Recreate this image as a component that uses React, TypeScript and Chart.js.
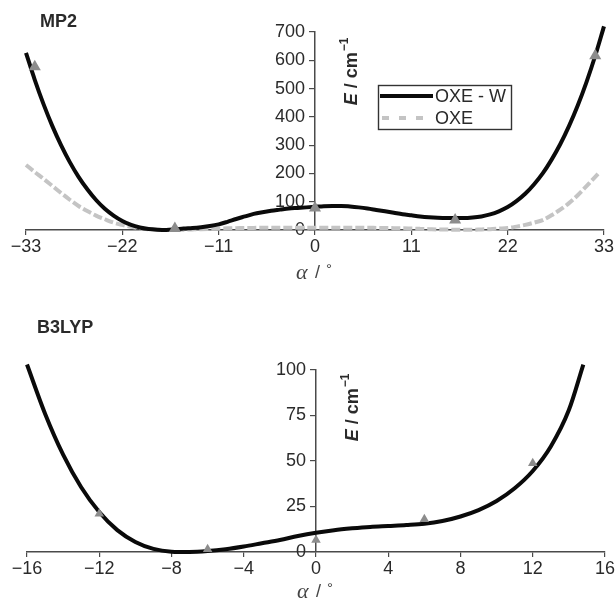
import React, { useEffect, useRef } from 'react';
import { Chart, registerables } from 'chart.js';

Chart.register(...registerables);

// ---------- MP2 panel data ----------
const mp2Angles = [-33, -32, -31, -30, -29, -28, -27, -26, -25, -24, -23, -22, -21, -20, -19, -18, -17,
  -16, -15, -14, -13, -12, -11, -10, -9, -8, -7, -6, -5, -4, -3, -2, -1,
  0, 1, 2, 3, 4, 5, 6, 7, 8, 9, 10, 11, 12, 13, 14, 15, 16,
  17, 18, 19, 20, 21, 22, 23, 24, 25, 26, 27, 28, 29, 30, 31, 32, 33];
const mp2OxeW = [626, 531, 445, 368, 300, 240, 188, 144, 106, 75, 51, 32, 18, 9, 3.5, 1, 0,
  2, 5, 7, 10, 14, 20, 29, 39, 48, 57, 63, 68, 72, 76, 78, 80,
  82, 84, 85, 85, 83, 80, 76, 71, 66, 61, 56, 52, 48, 45, 43, 42, 42,
  42, 44, 48, 55, 66, 81, 102, 128, 161, 200, 248, 303, 367, 440, 523, 616, 720];
const mp2OxeAngles = [-33, -32, -31, -30, -29, -28, -27, -26, -25, -24, -23, -22, -21, -20, -19, -18, -17,
  -16, -15, -14, -13, -12, -11, -10, -9, -8, -7, -6,
  -5, -4, -3, -2, -1, 0, 1, 2, 3, 4, 5,
  6, 7, 8, 9, 10, 11, 12, 13, 14, 15, 16,
  17, 18, 19, 20, 21, 22, 23, 24, 25, 26, 27, 28, 29, 30, 31, 32, 32.5];
const mp2Oxe = [230, 205, 181, 156, 131, 107, 85, 67, 51, 38, 26, 18, 11, 6, 3, 1, 0,
  0, 1, 2, 3, 4, 5, 6, 6.5, 7, 7.5, 8,
  8, 8, 8, 8, 8, 8, 8, 8, 8, 8, 8,
  8, 7.5, 7, 6.5, 6, 5, 4, 3, 2, 1.5, 1,
  1, 1, 2, 3, 5, 7, 12, 18, 26, 35, 52, 72, 95, 123, 155, 188, 205];
const mp2MarkAngles = [-32, -16, 0, 16, 32];
const mp2MarkE = [577, 5, 78, 35, 616];
const mp2XTicks = [-33, -22, -11, 0, 11, 22, 33];
const mp2YTicks = [0, 100, 200, 300, 400, 500, 600, 700];

// ---------- B3LYP panel data ----------
const b3Angles = [-16, -15, -14, -13, -12, -11, -10, -9, -8, -7, -6, -5, -4, -3, -2, -1,
  0, 1, 2, 3, 4, 5, 6, 7, 8, 9, 10, 11, 12, 13, 14, 14.8];
const b3E = [103, 76, 53.5, 35.6, 22, 12, 5.5, 1.7, 0.2, 0, 0.5, 1.5, 3, 4.8, 6.6, 8.8,
  10.6, 12, 13, 13.8, 14.3, 14.8, 15.5, 17, 19.5, 23, 28, 35, 44.5, 58, 78, 103];
const b3MarkAngles = [-12, -6, 0, 6, 12];
const b3MarkE = [21, 1.5, 6.6, 18, 48.7];
const b3XTicks = [-16, -12, -8, -4, 0, 4, 8, 12, 16];
const b3YTicks = [0, 25, 50, 75, 100];

const seriesNames = ['OXE - W', 'OXE'];

const SANS = '"Liberation Sans", Arial, sans-serif';
const SERIF = '"Liberation Serif", "Times New Roman", serif';
const AXIS_COLOR = '#4a4a4a';
const TEXT_COLOR = '#2a2a2a';
const BLACK_LINE = '#0a0a0a';
const GRAY_LINE = '#c4c4c4';
const MARK_COLOR = '#8c8c8c';

const pts = (xs: number[], ys: number[]) => xs.map((x, i) => ({ x, y: ys[i] }));
const minus = (v: number) => String(v).replace('-', '\u2212');

const decorPlugin = {
  id: 'decor',
  afterDraw(chart: any) {
    const cfg = chart.options.plugins.decor;
    if (!cfg) return;
    const ctx = chart.ctx as CanvasRenderingContext2D;
    const area = chart.chartArea;
    const xScale = chart.scales.x;
    const yAxisX = xScale.getPixelForValue(0);
    ctx.save();
    ctx.fillStyle = TEXT_COLOR;
    // panel title
    ctx.font = `bold 18px ${SANS}`;
    ctx.textBaseline = 'middle';
    ctx.textAlign = 'left';
    ctx.fillText(cfg.title, cfg.titleX, cfg.titleY);

    // y axis title (rotated)
    ctx.save();
    ctx.translate(yAxisX + 37, cfg.yTitleY);
    ctx.rotate(-Math.PI / 2);
    const fE = `italic bold 18px ${SANS}`;
    const fMain = `bold 18px ${SANS}`;
    const fSup = `bold 12px ${SANS}`;
    ctx.font = fE; const w1 = ctx.measureText('E').width;
    ctx.font = fMain; const w2 = ctx.measureText(' / cm').width;
    ctx.font = fSup; const w3 = ctx.measureText('\u22121').width;
    const x0 = -(w1 + w2 + w3) / 2;
    ctx.font = fE; ctx.fillText('E', x0, 0);
    ctx.font = fMain; ctx.fillText(' / cm', x0 + w1, 0);
    ctx.font = fSup; ctx.fillText('\u22121', x0 + w1 + w2 + 1, -7);
    ctx.restore();

    // x axis title: italic alpha, slash, degree sign
    const ty = area.bottom + cfg.xTitleOffset;
    const cx = yAxisX - 19;
    ctx.fillStyle = '#444';
    ctx.font = `italic 22px ${SERIF}`;
    ctx.fillText('\u03b1', cx, ty);
    ctx.font = `18px ${SANS}`;
    ctx.fillText('/', cx + 19, ty);
    ctx.font = `15px ${SANS}`;
    ctx.fillText('\u00b0', cx + 30, ty - 3);

    // legend
    if (cfg.legend) {
      const lx = 378.5, ly = 85.5, lw = 133, lh = 44;
      ctx.fillStyle = '#fff';
      ctx.fillRect(lx, ly, lw, lh);
      ctx.strokeStyle = '#333';
      ctx.lineWidth = 1.4;
      ctx.strokeRect(lx, ly, lw, lh);
      ctx.lineWidth = 4;
      ctx.strokeStyle = BLACK_LINE;
      ctx.beginPath(); ctx.moveTo(380, 96); ctx.lineTo(433, 96); ctx.stroke();
      ctx.strokeStyle = GRAY_LINE;
      ctx.setLineDash([7, 10]);
      ctx.beginPath(); ctx.moveTo(382, 118); ctx.lineTo(430, 118); ctx.stroke();
      ctx.setLineDash([]);
      ctx.fillStyle = TEXT_COLOR;
      ctx.font = `18px ${SANS}`;
      ctx.fillText(seriesNames[0], 435, 97);
      ctx.fillText(seriesNames[1], 435, 119);
    }
    ctx.restore();
  },
};

function makeConfig(opts: any) {
  return {
    type: 'scatter',
    data: { datasets: opts.datasets },
    plugins: [decorPlugin],
    options: {
      responsive: false,
      animation: false,
      devicePixelRatio: 1,
      layout: { padding: opts.padding },
      plugins: {
        legend: { display: false },
        tooltip: { enabled: false },
        decor: opts.decor,
      },
      scales: {
        x: {
          type: 'linear',
          min: opts.xTicks[0],
          max: opts.xTicks[opts.xTicks.length - 1],
          afterBuildTicks: (s: any) => { s.ticks = opts.xTicks.map((v: number) => ({ value: v })); },
          afterFit: (s: any) => { s.height = opts.xAxisHeight; },
          grid: { drawOnChartArea: false, drawTicks: true, tickLength: 5, color: AXIS_COLOR, lineWidth: 1.2 },
          border: { display: true, color: AXIS_COLOR, width: 1.5 },
          ticks: { color: TEXT_COLOR, font: { family: SANS, size: 18 }, padding: 1, maxRotation: 0, autoSkip: false, callback: (v: number) => minus(v) },
        },
        y: {
          type: 'linear',
          position: { x: 0 },
          min: opts.yTicks[0],
          max: opts.yTicks[opts.yTicks.length - 1],
          afterBuildTicks: (s: any) => { s.ticks = opts.yTicks.map((v: number) => ({ value: v })); },
          grid: { drawOnChartArea: false, drawTicks: true, tickLength: 5, color: AXIS_COLOR, lineWidth: 1.2 },
          border: { display: true, color: AXIS_COLOR, width: 1.5 },
          ticks: { color: TEXT_COLOR, font: { family: SANS, size: 18 }, autoSkip: false, callback: (v: number) => String(v) + '  ' },
        },
      },
    },
  };
}

function ChartCanvas({ config, top }: { config: any; top: number }) {
  const ref = useRef<HTMLCanvasElement | null>(null);
  useEffect(() => {
    if (!ref.current) return;
    const chart = new Chart(ref.current, config);
    return () => chart.destroy();
  }, [config]);
  return (
    <canvas
      ref={ref}
      width={616}
      height={300}
      style={{ position: 'absolute', left: 0, top, width: 616, height: 300 }}
    />
  );
}

const lineDefaults = { showLine: true, pointRadius: 0, cubicInterpolationMode: 'monotone', clip: false };

const mp2Config = makeConfig({
  xTicks: mp2XTicks,
  yTicks: mp2YTicks,
  padding: { left: 26, right: 12, top: 32, bottom: 0 },
  xAxisHeight: 70,
  decor: { title: 'MP2', titleX: 40, titleY: 22, yTitleY: 72, xTitleOffset: 43, legend: true },
  datasets: [
    { label: 'marks', data: pts(mp2MarkAngles, mp2MarkE), showLine: false, pointStyle: 'triangle', pointRadius: 7, backgroundColor: MARK_COLOR, borderColor: MARK_COLOR, borderWidth: 0, clip: false, order: 0 },
    { ...lineDefaults, label: seriesNames[0], data: pts(mp2Angles, mp2OxeW), borderColor: BLACK_LINE, borderWidth: 4, order: 1 },
    { ...lineDefaults, label: seriesNames[1], data: pts(mp2OxeAngles, mp2Oxe), borderColor: GRAY_LINE, borderWidth: 4, borderDash: [9, 3], order: 2 },
  ],
});

const b3Config = makeConfig({
  xTicks: b3XTicks,
  yTicks: b3YTicks,
  padding: { left: 27, right: 9, top: 70, bottom: 0 },
  xAxisHeight: 48,
  decor: { title: 'B3LYP', titleX: 37, titleY: 28, yTitleY: 108, xTitleOffset: 40, legend: false },
  datasets: [
    { label: 'marks', data: pts(b3MarkAngles, b3MarkE), showLine: false, pointStyle: 'triangle', pointRadius: 5.5, backgroundColor: MARK_COLOR, borderColor: MARK_COLOR, borderWidth: 0, clip: false, order: 0 },
    { ...lineDefaults, label: seriesNames[0], data: pts(b3Angles, b3E), borderColor: BLACK_LINE, borderWidth: 4, order: 1 },
  ],
});

export default function App() {
  return (
    <div style={{ position: 'absolute', left: 0, top: 0, width: 616, height: 600, background: '#fff', overflow: 'hidden' }}>
      <ChartCanvas config={mp2Config} top={0} />
      <ChartCanvas config={b3Config} top={300} />
    </div>
  );
}
